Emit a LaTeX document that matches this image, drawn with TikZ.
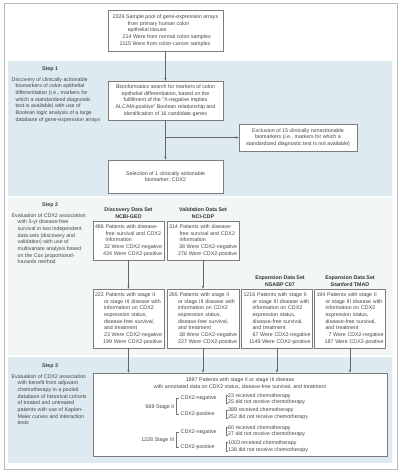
\documentclass[tikz,border=0pt]{standalone}
\usepackage{fontspec}
\setmainfont{Liberation Sans}
\usepackage{xcolor}
\definecolor{bandblue}{RGB}{221,234,239}
\definecolor{bandpale}{RGB}{243,246,247}
\definecolor{boxline}{RGB}{125,125,125}
\definecolor{txtgray}{RGB}{70,70,70}
\definecolor{framegray}{RGB}{185,185,185}
\usepackage{tikz}
\usetikzlibrary{arrows.meta, positioning, calc}
\newcommand{\fs}{\fontsize{5.3}{6.7}\selectfont}
\newcommand{\rt}{\leavevmode\hskip 0pt plus 1filll\relax}
\newcommand{\ind}{\hspace*{9pt}}

\begin{document}
\begin{tikzpicture}[
        x=1pt, y=-1pt,
        box/.style={rectangle, draw=boxline, fill=white, line width=0.7pt, inner sep=2pt, font=\fs, text=txtgray},
        txt/.style={font=\fs, text=txtgray, inner sep=0.5pt},
        head/.style={font=\fs\bfseries, text=black!80, align=center, inner sep=0.5pt},
        steptitle/.style={font=\fs\bfseries, text=black!75, inner sep=0.5pt},
        stepdesc/.style={txt, align=left, anchor=north west},
        arrow/.style={-{Stealth[length=3pt, width=2.4pt]}, draw=black!60, line width=0.6pt},
        brk/.style={draw=black!55, line width=0.4pt}
    ]
        \useasboundingbox (0,0) rectangle (401,471);

        % Frame and step bands
        \draw[framegray, line width=0.8pt] (4,3) rectangle (397,469);
        \fill[bandblue] (8,61) rectangle (392,196);
        \fill[bandpale] (8,198) rectangle (392,355);
        \fill[bandblue] (8,357) rectangle (392,463);

        % Sample pool
        \node[box, align=left, minimum width=115, minimum height=41] (pool0) at (165.5,30.5) {
            2329 Sample pool of gene-expression arrays\\
            \hspace*{15pt}from primary human colon\\
            \hspace*{15pt}epithelial tissues\\
            \hspace*{7pt}\phantom{0}214 Were from normal colon samples\\
            \hspace*{7pt}2115 Were from colon-cancer samples};

        % Step 1
        \node[steptitle] (s1) at (50,69) {Step 1};
        \node[stepdesc] (d1) at (11,76.5) {
            Discovery of clinically actionable\\
            \hspace*{4pt}biomarkers of colon epithelial\\
            \hspace*{4pt}differentiation (i.e., markers for\\
            \hspace*{4pt}which a standardized diagnostic\\
            \hspace*{4pt}test is available) with use of\\
            \hspace*{4pt}Boolean logic analysis of a large\\
            \hspace*{4pt}database of gene-expression arrays};
        \node[box, align=center, minimum width=115, minimum height=39] (bio) at (165.5,100.5) {
            Bioinformatics search for markers of colon\\
            epithelial differentiation, based on the\\
            fulfillment of the “X-negative implies\\
            ALCAM-positive” Boolean relationship and\\
            identification of 16 candidate genes};
        \node[box, align=center, minimum width=118, minimum height=27] (excl) at (298,137.5) {
            Exclusion of 15 clinically nonactionable\\
            biomarkers (i.e., markers for which a\\
            standardized diagnostic test is not available)};
        \node[box, align=center, minimum width=115, minimum height=33] (sel) at (165.5,176.5) {
            Selection of 1 clinically actionable\\
            biomarker: CDX2};

        \draw[arrow] (pool0) -- (bio);
        \draw[arrow] (bio) -- (sel);
        \draw[arrow] (bio.south |- excl.west) -- (excl);

        % Step 2
        \node[steptitle] (s2) at (50,205) {Step 2};
        \node[stepdesc] (d2) at (11,212.5) {
            Evaluation of CDX2 association\\
            \hspace*{6pt}with 5-yr disease-free\\
            \hspace*{6pt}survival in two independent\\
            \hspace*{6pt}data sets (discovery and\\
            \hspace*{6pt}validation) with use of\\
            \hspace*{6pt}multivariate analysis based\\
            \hspace*{6pt}on the Cox proportional-\\
            \hspace*{6pt}hazards method};

        \node[box, align=left, text width=67, minimum height=39] (disc) at (128.5,240.5) {
            466 Patients with disease-\\
            \phantom{466 }free survival and CDX2\\
            \phantom{466 }information\\
            \rt 32 Were CDX2-negative\\
            \rt 434 Were CDX2-positive};
        \node[box, align=left, text width=68, minimum height=39] (vali) at (203,240.5) {
            314 Patients with disease-\\
            \phantom{314 }free survival and CDX2\\
            \phantom{314 }information\\
            \rt 38 Were CDX2-negative\\
            \rt 276 Were CDX2-positive};
        \node[head, above=1.5pt of disc] (hdisc) {Discovery Data Set\\NCBI-GEO};
        \node[head, above=1.5pt of vali] (hvali) {Validation Data Set\\NCI-CDP};

        \node[box, align=left, text width=67, minimum height=59] (discst) at (128.5,318.5) {
            222 Patients with stage II\\
            \ind or stage III disease with\\
            \ind information on CDX2\\
            \ind expression status,\\
            \ind disease-free survival,\\
            \ind and treatment\\
            \rt 23 Were CDX2-negative\\
            \rt 199 Were CDX2-positive};
        \node[box, align=left, text width=68, minimum height=59] (valist) at (203,318.5) {
            265 Patients with stage II\\
            \ind or stage III disease with\\
            \ind information on CDX2\\
            \ind expression status,\\
            \ind disease-free survival,\\
            \ind and treatment\\
            \rt 38 Were CDX2-negative\\
            \rt 227 Were CDX2-positive};
        \node[box, align=left, text width=67, minimum height=59] (nsabp) at (277,318.5) {
            1216 Patients with stage II\\
            \ind or stage III disease with\\
            \ind information on CDX2\\
            \ind expression status,\\
            \ind disease-free survival,\\
            \ind and treatment\\
            \rt 67 Were CDX2-negative\\
            \rt 1149 Were CDX2-positive};
        \node[box, align=left, text width=67, minimum height=59] (tmad) at (350,318.5) {
            194 Patients with stage II\\
            \ind or stage III disease with\\
            \ind information on CDX2\\
            \ind expression status,\\
            \ind disease-free survival,\\
            \ind and treatment\\
            \rt 7 Were CDX2-negative\\
            \rt 187 Were CDX2-positive};
        \node[head, above=1.5pt of nsabp, xshift=3pt] (hnsabp) {Expansion Data Set\\NSABP C07};
        \node[head, above=1.5pt of tmad] (htmad) {Expansion Data Set\\Stanford TMAD};

        \draw[arrow] (disc) -- (discst);
        \draw[arrow] (vali) -- (valist);

        % Step 3
        \node[steptitle] (s3) at (50,366) {Step 3};
        \node[stepdesc] (d3) at (11,373.5) {
            Evaluation of CDX2 association\\
            \hspace*{6pt}with benefit from adjuvant\\
            \hspace*{6pt}chemotherapy in a pooled\\
            \hspace*{6pt}database of historical cohorts\\
            \hspace*{6pt}of treated and untreated\\
            \hspace*{6pt}patients with use of Kaplan-\\
            \hspace*{6pt}Meier curves and interaction\\
            \hspace*{6pt}tests};

        \node[box, minimum width=294, minimum height=83] (pooled) at (240,414.5) {};
        \node[txt, align=center] (ptitle) at (240,383.7) {
            1897 Patients with stage II or stage III disease\\
            with annotated data on CDX2 status, disease-free survival, and treatment};

        \draw[arrow] (discst) -- (discst |- pooled.north);
        \draw[arrow] (valist) -- (valist |- pooled.north);
        \draw[arrow] (nsabp) -- (nsabp |- pooled.north);
        \draw[arrow] (tmad) -- (tmad |- pooled.north);

        % Stage II
        \node[txt, anchor=east] (st2) at (175,406.7) {669 Stage II};
        \node[txt, anchor=west] (neg2) at (180,398.5) {CDX2-negative};
        \node[txt, anchor=west] (pos2) at (180,414.5) {CDX2-positive};
        \draw[brk] ([xshift=-1pt]neg2.west) -| ([xshift=1.5pt]st2.east) |- ([xshift=-1pt]pos2.west);
        \node[txt, anchor=west, align=left] (chn2) at (227.5,399.2) {23 received chemotherapy\\25 did not receive chemotherapy};
        \node[txt, anchor=west, align=left] (chp2) at (227.5,413.9) {389 received chemotherapy\\252 did not receive chemotherapy};

        % Stage III
        \node[txt, anchor=east] (st3) at (175,440) {1228 Stage III};
        \node[txt, anchor=west] (neg3) at (180,432.3) {CDX2-negative};
        \node[txt, anchor=west] (pos3) at (180,446.7) {CDX2-positive};
        \draw[brk] ([xshift=-1pt]neg3.west) -| ([xshift=1.5pt]st3.east) |- ([xshift=-1pt]pos3.west);
        \node[txt, anchor=west, align=left] (chn3) at (227.5,431.2) {60 received chemotherapy\\27 did not receive chemotherapy};
        \node[txt, anchor=west, align=left] (chp3) at (227.5,446.7) {1003 received chemotherapy\\138 did not receive chemotherapy};

        \draw[brk] ([yshift=-2.5pt]chn2.north west) -- ++(-1.5,0) |- ([yshift=2.5pt]chn2.south west);
        \draw[brk] ([yshift=-2.5pt]chp2.north west) -- ++(-1.5,0) |- ([yshift=2.5pt]chp2.south west);
        \draw[brk] ([yshift=-2.5pt]chn3.north west) -- ++(-1.5,0) |- ([yshift=2.5pt]chn3.south west);
        \draw[brk] ([yshift=-2.5pt]chp3.north west) -- ++(-1.5,0) |- ([yshift=2.5pt]chp3.south west);
    \end{tikzpicture}
\end{document}
